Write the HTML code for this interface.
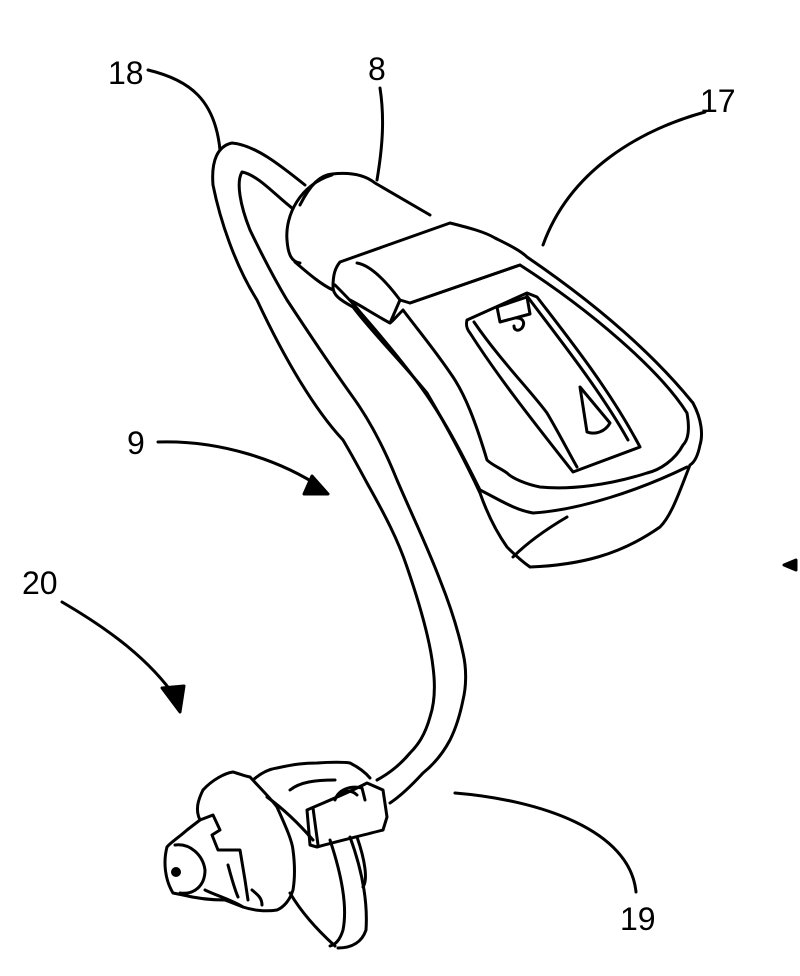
<!DOCTYPE html>
<html><head><meta charset="utf-8"><style>
html,body{margin:0;padding:0;background:#fff;}
svg{display:block}
text{font-family:"Liberation Sans Narrow","Liberation Sans",sans-serif;font-size:32px;fill:#000}
</style></head><body>
<svg width="800" height="976" viewBox="0 0 800 976" xmlns="http://www.w3.org/2000/svg">
<g fill="none" stroke="#000" stroke-width="3" stroke-linecap="round" stroke-linejoin="round">
<!-- leader lines -->
<path d="M148 70 C190 80 215 100 220 150"/>
<path d="M380 88 C385 120 382 150 377 180"/>
<path d="M705 112 C640 130 570 170 543 245"/>
<path d="M158 442 C220 440 280 460 322 488"/>
<path d="M312 476 L328 494 L304 494 Z" fill="#000"/>
<path d="M62 602 C110 630 150 660 176 698"/>
<path d="M162 688 L180 712 L184 686 Z" fill="#000"/>
<path d="M636 892 C630 830 540 800 455 793"/>
<path d="M784 565 L796 560 L796 570 Z" fill="#000"/>
<!-- tube -->
<path d="M305 185 C280 165 255 145 232 143 C218 146 211 160 213 185 C220 220 235 265 257 300 C285 360 315 410 343 440 C352 455 360 470 367 483 C385 515 398 540 407 567 C420 605 430 640 433 667 C436 690 434 705 430 717 C425 735 418 745 410 753 C400 765 390 773 377 780"/>
<path d="M292 208 C275 195 258 175 242 172 C236 182 240 205 250 230 C262 255 275 280 287 300 C310 335 330 365 350 393 C370 420 385 450 397 480 C412 515 428 548 440 580 C450 605 458 630 463 653 C467 670 466 688 463 700 C460 715 456 728 450 740 C442 755 433 765 423 773 C412 785 402 795 390 803"/>
<!-- body 8 cylinder -->
<path d="M300 205 C310 185 320 175 332 174 C350 172 365 175 375 183 L430 215"/>
<path d="M332 175 C300 185 285 215 287 240 C288 255 292 262 300 263"/>
<path d="M295 262 C310 275 322 285 333 290"/>
<!-- housing outer -->
<path d="M340 262 L450 223 C470 228 485 232 495 238 C505 243 520 250 527 257 C590 300 650 350 693 403 C702 420 703 435 700 445 C698 455 695 462 690 465 C680 490 672 515 660 527 C620 555 580 565 530 567 C520 560 512 552 507 547 C495 530 486 510 480 493 C460 450 440 415 427 393 C400 360 370 330 353 307 C340 300 333 295 333 287 C333 275 335 268 340 262 Z"/>
<!-- rim -->
<path d="M357 263 C370 265 385 280 400 300 L410 303 L520 265 C590 310 660 370 687 413 C690 430 688 440 683 445 C675 460 660 470 647 473 C610 485 570 490 540 487 C525 484 512 478 507 473 C500 468 492 465 487 460 C475 420 465 395 453 377 C435 350 418 330 403 310 C395 318 392 322 390 323 C375 315 360 305 350 300"/>
<path d="M400 300 L390 323"/>
<path d="M335 285 C345 295 355 305 360 312 C380 335 410 370 430 400 C450 430 465 460 480 490"/>
<path d="M410 303 L520 265"/>
<!-- bottom lines -->
<path d="M480 490 C500 500 515 510 533 513 C580 510 640 490 687 467"/>
<path d="M513 557 C530 540 550 527 567 517"/>
<!-- window -->
<path d="M467 320 L527 293 L537 297 C570 340 610 390 640 447 L573 472 C540 430 500 380 470 333 C466 328 466 324 467 320 Z"/>
<path d="M474 322 C500 360 530 390 547 413 C560 435 570 455 577 467"/>
<path d="M527 296 C560 340 600 390 628 440"/>
<path d="M497 307 L527 297 L530 314 L500 322 Z"/>
<path d="M517 318 C522 318 526 322 522 328 C518 332 514 330 514 326"/>
<path d="M580 387 L610 423 C605 432 595 435 587 432 Z"/>
<!-- earpiece: loop behind -->
<path d="M330 840 C340 870 348 905 343 930 C340 940 335 945 330 946"/>
<path d="M350 837 C362 870 368 900 366 930 C362 942 352 948 338 948"/>
<path d="M357 837 C365 860 368 880 363 887"/>
<path d="M290 893 C300 910 315 928 335 946"/>
<path d="M253 780 C262 772 270 769 277 768 C295 764 305 763 317 763 C330 762 345 762 350 763 C358 767 365 772 370 778"/>
<path d="M290 790 C300 782 315 780 335 780"/>
<!-- connector block -->
<path d="M307 810 C330 800 350 792 367 783 L383 790 L387 817 L383 830 C360 836 335 842 317 847 L310 845 Z"/>
<path d="M313 808 L318 845"/>
<path d="M335 800 C338 790 350 785 362 788 L365 800"/>
<path d="M340 795 C345 790 352 790 357 795"/>
<path d="M267 797 C285 810 300 825 313 840"/>
<!-- dome disk -->
<path d="M203 790 C212 780 225 773 233 772 C240 774 245 776 250 777 C262 790 272 800 277 807 C285 825 292 840 293 850 C295 865 295 878 293 890 C290 900 284 907 277 910 C265 912 252 910 243 907 C232 900 215 895 205 890"/>
<!-- cone / tip -->
<path d="M203 790 C198 800 195 810 200 820 L187 830 C178 838 170 843 167 847"/>
<path d="M167 847 C163 862 165 880 173 893 L183 895 C195 898 210 900 225 900 L243 907"/>
<path d="M175 845 C190 843 203 855 205 870 C205 885 195 895 180 893"/>
<path d="M200 820 L213 815 L220 830 L212 835 L218 850 L240 850 L245 880 L248 900"/>
<path d="M228 865 C232 880 235 890 238 897"/>
<path d="M252 890 C258 895 262 898 262 905"/>
</g>
<circle cx="176" cy="872" r="5" fill="#000"/>
<text x="108" y="84">18</text>
<text x="368" y="80">8</text>
<text x="700" y="112">17</text>
<text x="127" y="454">9</text>
<text x="22" y="594">20</text>
<text x="620" y="930">19</text>
</svg>
</body></html>
